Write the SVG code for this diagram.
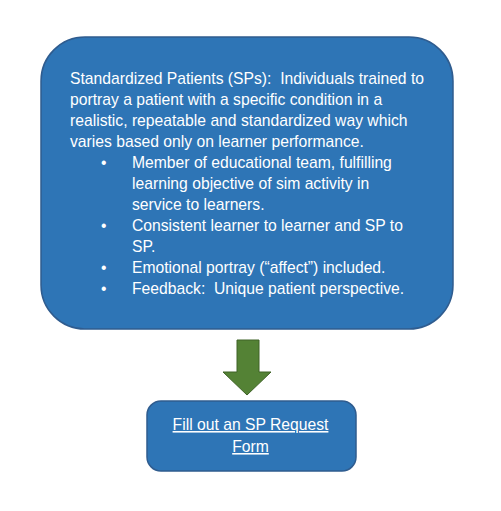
<svg xmlns="http://www.w3.org/2000/svg" width="501" height="511" viewBox="0 0 501 511">
<style>
.box{fill:#2E75B6;stroke:#2F5C8F;stroke-width:1.5}
.t{font-family:"Liberation Sans",Arial,sans-serif;font-size:15.7px;fill:#FFFFFF;white-space:pre}
.u{text-decoration:underline}
</style>
<rect width="501" height="511" fill="#FFFFFF"/>
<g id="sp-box">
<rect class="box" x="41" y="37" width="412" height="292" rx="44" ry="44"/>
<text class="t" x="70" y="84" xml:space="preserve">Standardized Patients (SPs):  Individuals trained to</text>
<text class="t" x="70" y="105">portray a patient with a specific condition in a</text>
<text class="t" x="70" y="126">realistic, repeatable and standardized way which</text>
<text class="t" x="70" y="147">varies based only on learner performance.</text>
<text class="t" x="101" y="168">•</text>
<text class="t" x="132" y="168">Member of educational team, fulfilling</text>
<text class="t" x="132" y="189">learning objective of sim activity in</text>
<text class="t" x="132" y="210">service to learners.</text>
<text class="t" x="101" y="231">•</text>
<text class="t" x="132" y="231">Consistent learner to learner and SP to</text>
<text class="t" x="132" y="252">SP.</text>
<text class="t" x="101" y="273">•</text>
<text class="t" x="132" y="273">Emotional portray (“affect”) included.</text>
<text class="t" x="101" y="294">•</text>
<text class="t" x="132" y="294" xml:space="preserve">Feedback:  Unique patient perspective.</text>
</g>
<g id="connectors">
<polygon points="237,340 259,340 259,372 271,372 247,395 223,372 237,372" fill="#548235" stroke="#3F6327" stroke-width="1"/>
</g>
<g id="request-form">
<rect class="box" x="147" y="401" width="209" height="70" rx="14" ry="14"/>
<text class="t u" x="250.5" y="430" text-anchor="middle">Fill out an SP Request</text>
<text class="t u" x="250.5" y="452" text-anchor="middle">Form</text>
</g>
</svg>
